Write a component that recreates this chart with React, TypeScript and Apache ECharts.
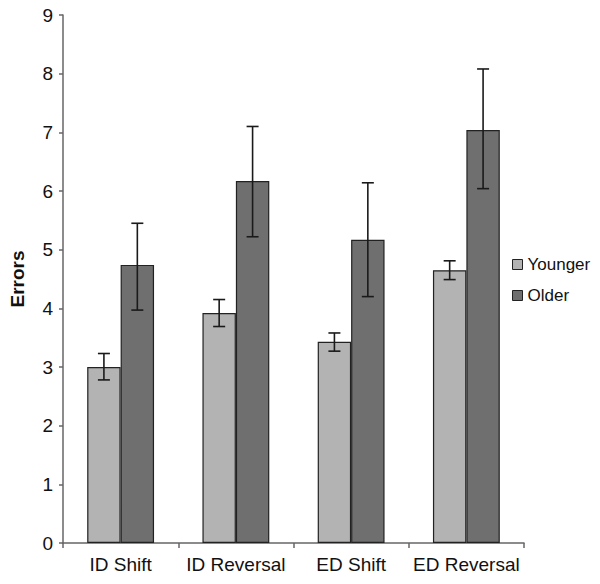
import React, { useEffect, useRef } from "react";
import * as echarts from "echarts";

const categories = ["ID Shift", "ID Reversal", "ED Shift", "ED Reversal"];
const youngerMean = [3.0, 3.92, 3.43, 4.65];
const youngerLow = [2.78, 3.69, 3.27, 4.49];
const youngerHigh = [3.23, 4.15, 3.58, 4.81];
const olderMean = [4.74, 6.17, 5.17, 7.04];
const olderLow = [3.97, 5.22, 4.2, 6.04];
const olderHigh = [5.45, 7.1, 6.14, 8.08];
const yTicks = [0, 1, 2, 3, 4, 5, 6, 7, 8, 9];

const CAT_GAP = 0.42;
const FONT = "Liberation Sans, Arial, sans-serif";

function errorSeries(low: number[], high: number[], side: number) {
  return {
    type: "custom",
    z: 10,
    silent: true,
    data: low.map((l, i) => [i, l, high[i]]),
    encode: { x: 0, y: [1, 2] },
    renderItem: (params: any, api: any) => {
      const idx = api.value(0);
      const catW = api.size([1, 0])[0];
      const barW = (catW * (1 - CAT_GAP)) / 2;
      const lo = api.coord([idx, api.value(1)]);
      const hi = api.coord([idx, api.value(2)]);
      const x = lo[0] + (side * barW) / 2;
      const cap = 6;
      const style = { stroke: "#1a1a1a", lineWidth: 1.6 };
      return {
        type: "group",
        children: [
          { type: "line", shape: { x1: x, y1: lo[1], x2: x, y2: hi[1] }, style },
          { type: "line", shape: { x1: x - cap, y1: lo[1], x2: x + cap, y2: lo[1] }, style },
          { type: "line", shape: { x1: x - cap, y1: hi[1], x2: x + cap, y2: hi[1] }, style },
        ],
      };
    },
  };
}

export default function App() {
  const ref = useRef<HTMLDivElement>(null);
  useEffect(() => {
    const chart = echarts.init(ref.current!, null, { renderer: "svg" });
    chart.setOption({
      animation: false,
      backgroundColor: "#ffffff",
      grid: { left: 62, right: 76, top: 15, bottom: 41 },
      legend: {
        data: ["Younger", "Older"],
        orient: "vertical",
        left: 512,
        top: 256,
        padding: 0,
        itemWidth: 10,
        itemHeight: 10,
        itemGap: 14,
        icon: "rect",
        textStyle: { fontFamily: FONT, fontSize: 17, color: "#111", padding: [0, 0, 0, 0] },
        itemStyle: { borderColor: "#222", borderWidth: 1 },
      },
      xAxis: {
        type: "category",
        data: categories,
        axisLine: { lineStyle: { color: "#666", width: 1.5 } },
        axisTick: { show: true, length: 5, lineStyle: { color: "#666", width: 1.5 } },
        axisLabel: { interval: 0, fontFamily: FONT, fontSize: 19, color: "#111", margin: 12, hideOverlap: false },
      },
      yAxis: {
        type: "value",
        min: 0,
        max: 9,
        interval: 1,
        name: "Errors",
        nameLocation: "middle",
        nameGap: 36,
        nameTextStyle: { fontFamily: FONT, fontSize: 19, fontWeight: "bold", color: "#111" },
        splitLine: { show: false },
        axisLine: { show: true, lineStyle: { color: "#666", width: 1.5 } },
        axisTick: { show: true, length: 4, lineStyle: { color: "#666", width: 1.5 } },
        axisLabel: {
          fontFamily: FONT,
          fontSize: 19,
          color: "#111",
          margin: 10,
          formatter: (v: number) => (yTicks.includes(v) ? String(v) : ""),
        },
      },
      series: [
        {
          name: "Younger",
          type: "bar",
          data: youngerMean,
          barGap: "0%",
          barCategoryGap: CAT_GAP * 100 + "%",
          itemStyle: { color: "#b3b3b3", borderColor: "#222", borderWidth: 1.2 },
        },
        {
          name: "Older",
          type: "bar",
          data: olderMean,
          barGap: "0%",
          barCategoryGap: CAT_GAP * 100 + "%",
          itemStyle: { color: "#6f6f6f", borderColor: "#222", borderWidth: 1.2 },
        },
        errorSeries(youngerLow, youngerHigh, -1),
        errorSeries(olderLow, olderHigh, 1),
      ],
    });
    return () => chart.dispose();
  }, []);
  return <div ref={ref} style={{ width: 600, height: 584, margin: -8 }} />;
}
